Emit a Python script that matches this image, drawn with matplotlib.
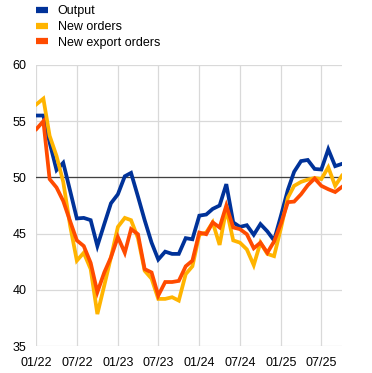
import matplotlib
matplotlib.use("Agg")
import matplotlib.pyplot as plt
import pandas as pd

# Monthly PMI readings, Jan 2022 - Oct 2025
months = pd.date_range("2022-01-01", periods=46, freq="MS")

output = [55.5, 55.5, 53.1, 50.65, 51.3, 48.8, 46.35, 46.4, 46.2, 43.9, 45.85, 47.7,
          48.5, 50.1, 50.4, 48.3, 46.2, 44.2, 42.7, 43.4, 43.2, 43.2, 44.6, 44.5,
          46.6, 46.7, 47.2, 47.5, 49.4, 46.0, 45.6, 45.75, 44.9, 45.85, 45.2, 44.4,
          46.6, 48.9, 50.5, 51.45, 51.55, 50.75, 50.7, 52.5, 51.0, 51.2]

new_orders = [56.5, 57.0, 53.7, 51.9, 49.6, 45.7, 42.6, 43.3, 41.85, 37.85, 40.4, 42.9,
              45.6, 46.4, 46.2, 44.6, 41.7, 41.0, 39.2, 39.2, 39.35, 39.05, 41.4, 42.1,
              44.9, 45.1, 46.0, 44.0, 47.2, 44.4, 44.2, 43.6, 42.2, 44.2, 43.2, 43.0,
              45.5, 48.2, 49.25, 49.6, 49.8, 49.95, 49.85, 50.9, 49.25, 50.15]

new_export_orders = [54.3, 55.0, 49.85, 49.1, 47.9, 46.1, 44.4, 43.9, 42.4, 39.8, 41.55, 42.9,
                     44.7, 43.3, 45.4, 44.95, 41.85, 41.55, 39.5, 40.7, 40.7, 40.8, 42.1, 42.6,
                     45.1, 44.95, 46.0, 45.55, 47.5, 45.55, 45.4, 44.95, 43.7, 44.2, 43.3, 44.3,
                     45.9, 47.8, 47.85, 48.5, 49.3, 49.9, 49.25, 48.95, 48.7, 49.15]

tick_labels = ["01/22", "07/22", "01/23", "07/23", "01/24", "07/24", "01/25", "07/25"]
y_ticks = [35, 40, 45, 50, 55, 60]

series = pd.DataFrame({
    "Output": output,
    "New orders": new_orders,
    "New export orders": new_export_orders,
}, index=months)
colours = {"Output": "#003299", "New orders": "#FFB400", "New export orders": "#FF4B00"}

plt.rcParams["font.family"] = ["Liberation Sans", "DejaVu Sans"]
plt.rcParams["font.size"] = 9

fig = plt.figure(figsize=(3.72, 3.73), dpi=100)
ax = fig.add_axes([0.098, 0.072, 0.821, 0.754])

for name in series.columns:
    ax.plot(series.index, series[name], color=colours[name], linewidth=2.7,
            label=name, solid_joinstyle="miter", zorder=3)

ax.axhline(50, color="#404040", linewidth=0.9, zorder=2)

tick_dates = [pd.to_datetime("01/" + t, format="%d/%m/%y") for t in tick_labels]
ax.set_xticks(tick_dates)
ax.set_xticklabels(tick_labels)
ax.set_yticks(y_ticks)
ax.set_xlim(months[0], months[-1])
ax.set_ylim(35, 60)

ax.grid(True, color="#d9d9d9", linewidth=0.9, zorder=0)
ax.set_axisbelow(True)
for s in ax.spines.values():
    s.set_visible(False)
ax.tick_params(length=0, colors="black", labelsize=9)
ax.tick_params(axis="x", pad=8)
ax.tick_params(axis="y", pad=7)

leg = fig.legend(loc="upper left", bbox_to_anchor=(0.066, 1.016), frameon=False,
                 handlelength=1.0, handletextpad=0.75, labelspacing=0.3, fontsize=9)
for h in leg.get_lines():
    h.set_linewidth(4.5)
    h.set_solid_capstyle("butt")

fig.savefig("out.png", dpi=100)
